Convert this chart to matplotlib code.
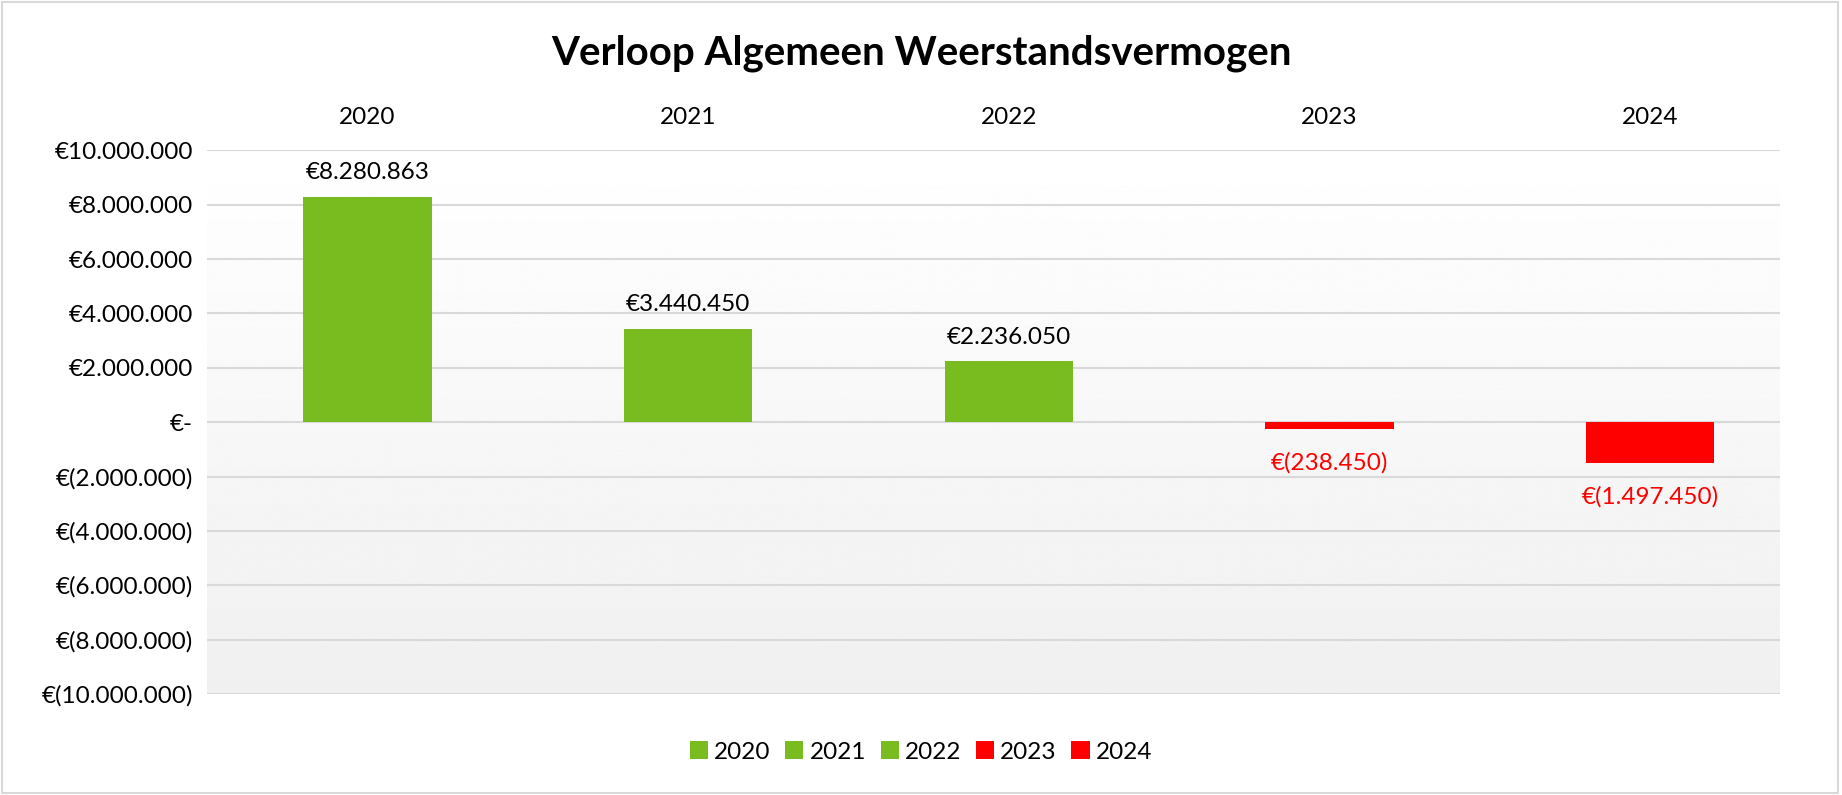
import numpy as np
import matplotlib
matplotlib.use('Agg')
from matplotlib import pyplot as plt
from matplotlib.patches import Rectangle

# Gegevens
jaren = ['2020', '2021', '2022', '2023', '2024']
waarden = [8280863, 3440450, 2236050, -238450, -1497450]
kleuren = ['#78bc1f', '#78bc1f', '#78bc1f', '#ff0000', '#ff0000']
yticks = np.arange(-10000000, 10000001, 2000000)

plt.rcParams['font.family'] = ['Lato', 'DejaVu Sans']
fs = 17.5


def euro(v):
    # Excel boekhoudnotatie: €-, €1.000, €(1.000)
    if v == 0:
        return '€-'
    s = f'{abs(int(round(v))):,}'.replace(',', '.')
    if v < 0:
        return '€(' + s + ')'
    return '€' + s


fig = plt.figure(figsize=(18.42, 7.95), dpi=100)
ax = fig.add_axes([0.1124, 0.127, 0.8539, 0.684])

x = np.arange(len(jaren))
xmin, xmax = -0.5, 4.405
for i in range(len(jaren)):
    ax.bar(x[i], waarden[i], width=0.40, color=kleuren[i], label=jaren[i], zorder=3)

# Labels bij de staven
for i, v in enumerate(waarden):
    if v >= 0:
        ax.text(x[i], v + 500000, euro(v), ha='center', va='bottom', fontsize=fs, color='#000000')
    else:
        ax.text(x[i], v - 850000, euro(v), ha='center', va='top', fontsize=fs, color='#ff0000')

ax.set_yticks(yticks)
ax.set_yticklabels([euro(v) for v in yticks], fontsize=fs)
ax.set_xticks(x)
ax.set_xticklabels(jaren, fontsize=fs)
ax.xaxis.tick_top()
ax.tick_params(axis='both', length=0)
ax.tick_params(axis='x', pad=16)
ax.tick_params(axis='y', pad=10)
ax.grid(axis='y', color='#d9d9d9', linewidth=1.5, zorder=1)
ax.set_axisbelow(True)
for s in ax.spines.values():
    s.set_visible(False)

# Verloop achtergrond (wit naar lichtgrijs)
grad = np.linspace(1.0, 0.94, 256).reshape(-1, 1)
ax.imshow(grad, cmap='gray', vmin=0, vmax=1, aspect='auto', extent=(xmin, xmax, -10000000, 10000000),
          zorder=0, origin='upper')
ax.set_xlim(xmin, xmax)
ax.set_ylim(-10000000, 10000000)

fig.text(0.5, 0.933, 'Verloop Algemeen Weerstandsvermogen', ha='center', va='center', fontsize=29, fontweight='bold')

leg = fig.legend(loc='center', bbox_to_anchor=(0.5, 0.054), ncol=5, frameon=False, fontsize=fs,
                 handlelength=0.75, handleheight=0.75, handletextpad=0.25, columnspacing=0.6)

# Rand om de grafiek
fig.patches.append(Rectangle((0.001, 0.002), 0.997, 0.996, transform=fig.transFigure, fill=False,
                             edgecolor='#d9d9d9', linewidth=1.5))

plt.savefig('out.png', dpi=100)
